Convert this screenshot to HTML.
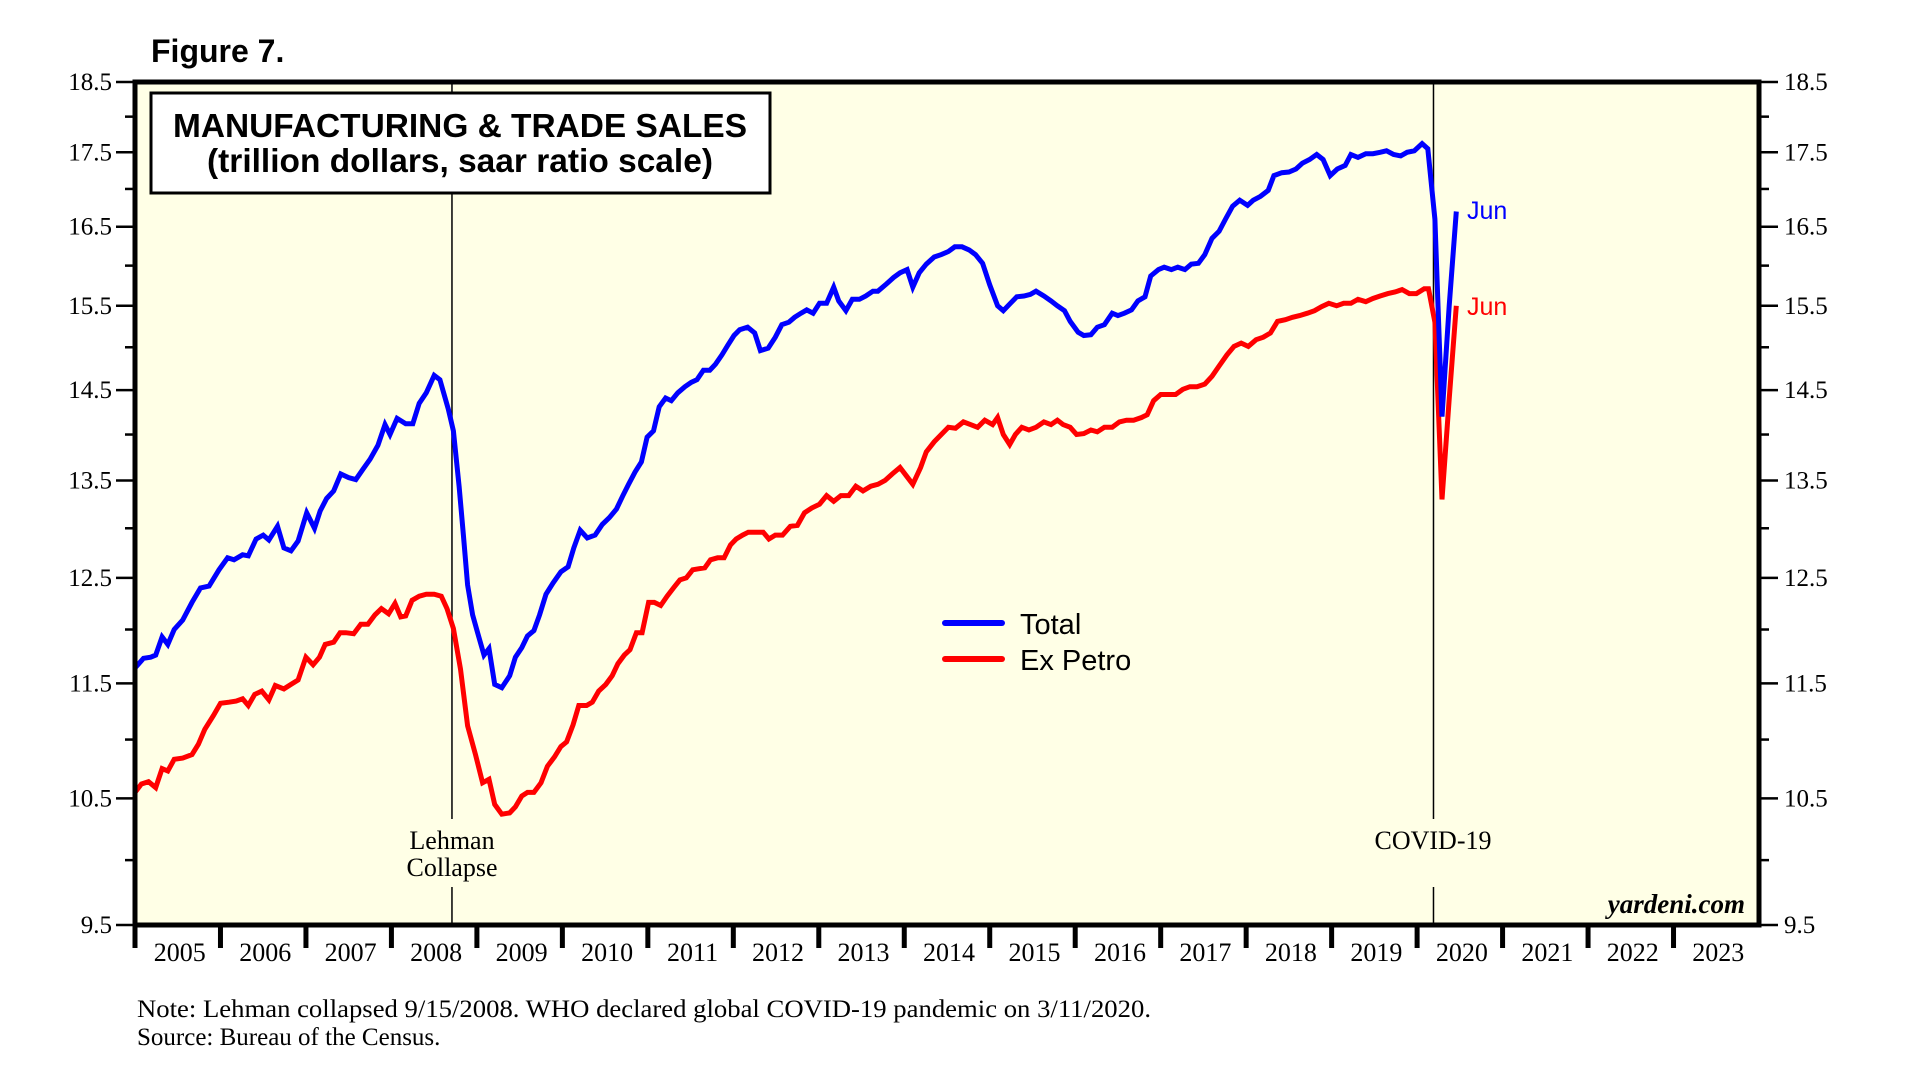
<!DOCTYPE html>
<html><head><meta charset="utf-8"><style>
html,body{margin:0;padding:0;background:#fff;}
svg{display:block;}
</style></head><body>
<svg id="chart" width="1908" height="1088" viewBox="0 0 1908 1088" xmlns="http://www.w3.org/2000/svg">
<text x="151" y="62" font-family="Liberation Sans, sans-serif" font-weight="bold" font-size="32">Figure 7.</text>
<rect x="135" y="82" width="1624" height="843" fill="#ffffe6"/>
<g id="grid"></g>
<g id="series"></g>
<rect x="135" y="82" width="1624" height="843" fill="none" stroke="#000" stroke-width="5"/>
<g id="axes"></g>
<rect x="151" y="93" width="619" height="100" fill="#fff" stroke="#000" stroke-width="3"/>
<text x="460" y="137" text-anchor="middle" font-family="Liberation Sans, sans-serif" font-weight="bold" font-size="33" textLength="574" lengthAdjust="spacingAndGlyphs">MANUFACTURING &amp; TRADE SALES</text>
<text x="460" y="172" text-anchor="middle" font-family="Liberation Sans, sans-serif" font-weight="bold" font-size="33" textLength="506" lengthAdjust="spacingAndGlyphs">(trillion dollars, saar ratio scale)</text>
<g>
<line x1="945" y1="623" x2="1002" y2="623" stroke="#0000ff" stroke-width="6" stroke-linecap="round"/>
<text x="1020" y="634" font-family="Liberation Sans, sans-serif" font-size="29">Total</text>
<line x1="945" y1="659" x2="1002" y2="659" stroke="#ff0000" stroke-width="6" stroke-linecap="round"/>
<text x="1020" y="670" font-family="Liberation Sans, sans-serif" font-size="29">Ex Petro</text>
</g>
<text x="452" y="849" text-anchor="middle" font-family="Liberation Serif, serif" font-size="26">Lehman</text>
<text x="452" y="876" text-anchor="middle" font-family="Liberation Serif, serif" font-size="26">Collapse</text>
<text x="1433" y="849" text-anchor="middle" font-family="Liberation Serif, serif" font-size="26">COVID-19</text>
<text x="1467" y="219" font-family="Liberation Sans, sans-serif" font-size="25" fill="#0000ff">Jun</text>
<text x="1467" y="315" font-family="Liberation Sans, sans-serif" font-size="25" fill="#ff0000">Jun</text>
<text x="1745" y="913" text-anchor="end" font-family="Liberation Serif, serif" font-weight="bold" font-style="italic" font-size="27">yardeni.com</text>
<text x="137" y="1017" font-family="Liberation Serif, serif" font-size="25" textLength="1014" lengthAdjust="spacingAndGlyphs">Note: Lehman collapsed 9/15/2008. WHO declared global COVID-19 pandemic on 3/11/2020.</text>
<text x="137" y="1045" font-family="Liberation Serif, serif" font-size="25">Source: Bureau of the Census.</text>
</svg>
<script>
// month index since Jan 2005
const totalMonths = [0,1.2,2.2,2.9,3.8,4.6,5.5,6.7,8,9.2,10.4,11.8,13,13.9,15.1,15.9,17,18,18.8,20,20.9,21.9,22.9,24.1,25.2,26,26.9,27.9,28.9,30,31,32,33,34.1,35.1,35.8,36.8,38,39,39.9,40.9,42,42.8,44,44.7,45.5,46.1,46.7,47.4,48.1,49,49.7,50.5,51.5,52.6,53.4,54.3,55.1,56,56.8,57.7,58.7,59.8,60.8,61.6,62.5,63.5,64.6,65.6,66.6,67.6,68.5,69.3,70.2,71.1,71.9,72.8,73.6,74.5,75.3,76.2,77.2,78.1,78.9,79.8,80.7,81.5,82.4,83.2,84.1,84.9,86,87,87.8,88.9,89.9,90.8,91.8,92.6,93.5,94.3,95.2,96.1,97.1,98.1,98.8,99.8,100.7,101.7,102.6,103.6,104.3,105.5,106.5,107.4,108.4,109.2,110.1,111.1,112.2,113.2,114.2,115.1,116.1,117.1,118,119,120,121.1,121.9,122.9,123.8,124.8,125.7,126.5,127.6,128.6,129.5,130.5,131.3,132.4,133.2,134.2,135.1,136.1,137.2,138,138.9,139.9,140.8,141.8,142.6,143.7,144.5,145.5,146.4,147.4,148.3,149.3,150.2,151.2,152.2,153.1,154.1,155.1,156.2,157,158,159.1,159.9,161,162,163,163.9,164.9,165.9,166.8,167.8,168.8,169.9,170.7,171.7,172.8,173.8,174.8,175.7,176.7,177.7,178.6,179.6,180.7,181.5,182.5,183.5,184.5,185.5];
const totalValues = [11.64,11.73,11.74,11.76,11.93,11.86,12.0,12.09,12.26,12.4,12.42,12.58,12.7,12.68,12.73,12.72,12.89,12.93,12.88,13.02,12.8,12.77,12.87,13.16,13.0,13.18,13.31,13.39,13.57,13.53,13.51,13.62,13.73,13.88,14.11,14.0,14.18,14.12,14.12,14.35,14.47,14.67,14.62,14.28,14.04,13.44,12.93,12.43,12.14,11.97,11.76,11.82,11.49,11.46,11.57,11.74,11.83,11.94,11.99,12.14,12.34,12.45,12.56,12.61,12.8,12.98,12.9,12.93,13.04,13.11,13.2,13.34,13.46,13.59,13.7,13.97,14.04,14.31,14.41,14.38,14.47,14.54,14.59,14.62,14.73,14.73,14.8,14.91,15.02,15.14,15.21,15.24,15.17,14.96,14.99,15.12,15.27,15.3,15.36,15.41,15.45,15.41,15.53,15.53,15.73,15.56,15.44,15.58,15.58,15.62,15.68,15.68,15.77,15.85,15.91,15.95,15.73,15.91,16.02,16.11,16.14,16.18,16.24,16.24,16.2,16.14,16.03,15.76,15.5,15.44,15.53,15.61,15.62,15.64,15.68,15.62,15.56,15.5,15.44,15.31,15.18,15.14,15.15,15.24,15.27,15.41,15.38,15.41,15.45,15.56,15.61,15.87,15.95,15.98,15.95,15.98,15.95,16.02,16.03,16.14,16.35,16.44,16.6,16.77,16.85,16.78,16.85,16.9,16.98,17.18,17.22,17.23,17.27,17.35,17.4,17.47,17.4,17.18,17.27,17.32,17.47,17.43,17.48,17.48,17.5,17.52,17.47,17.45,17.5,17.52,17.62,17.55,16.6,14.2,15.5,16.7];
const exPetroMonths = [0,0.9,1.9,2.9,3.8,4.6,5.5,6.7,8,8.9,9.8,11,12,13.2,14.2,15.1,15.9,16.8,17.8,18.8,19.7,20.9,21.9,22.9,24,25,25.9,26.7,27.9,28.8,29.6,30.7,31.7,32.7,33.7,34.6,35.6,36.5,37.3,38,38.9,39.9,40.9,42,43,43.8,44.7,45.7,46.7,47.8,48.8,49.7,50.5,51.5,52.6,53.4,54.3,55.1,56,57,57.9,58.9,59.8,60.6,61.5,62.3,63.4,64.2,65.1,66.1,67,67.8,68.7,69.5,70.4,71.2,72.1,72.9,73.8,74.7,75.7,76.5,77.4,78.3,79.1,80,80.8,81.8,82.7,83.6,84.4,85.3,86.1,87.2,88.2,89,89.9,90.9,92,93,94,95,96.1,97.1,98.1,99.1,100.2,101.2,102.2,103.3,104.3,105.3,106.3,107.4,108.4,109.2,110.3,111.1,112.2,113.2,114.2,115.2,116.3,117.3,118.3,119.3,120.4,121.1,121.9,122.8,123.6,124.5,125.5,126.5,127.6,128.6,129.5,130.3,131.3,132.2,133.2,134.2,135.1,136.1,137.2,138.2,139.2,140.2,141.3,142.1,143,144,145,146.1,147.1,148.1,149.1,150.2,151.2,152.2,153.3,154.3,155.3,156.3,157.4,158.4,159.4,160.4,161.5,162.5,163.5,164.6,165.6,166.6,167.6,168.7,169.7,170.7,171.7,172.8,173.8,174.8,175.9,176.9,177.9,178.9,179.9,181,181.6,182.5,183.5,184.5,185.5];
const exPetroValues = [10.55,10.62,10.64,10.59,10.75,10.73,10.83,10.84,10.87,10.96,11.09,11.21,11.32,11.33,11.34,11.36,11.3,11.4,11.43,11.35,11.48,11.45,11.49,11.53,11.74,11.67,11.74,11.86,11.88,11.97,11.97,11.96,12.05,12.05,12.14,12.2,12.15,12.25,12.12,12.13,12.28,12.32,12.34,12.34,12.32,12.2,12.01,11.63,11.12,10.87,10.63,10.66,10.45,10.37,10.38,10.43,10.52,10.55,10.55,10.63,10.77,10.85,10.94,10.98,11.13,11.3,11.3,11.33,11.43,11.49,11.57,11.68,11.76,11.81,11.97,11.97,12.26,12.26,12.23,12.32,12.41,12.48,12.5,12.58,12.59,12.6,12.68,12.7,12.7,12.83,12.89,12.93,12.96,12.96,12.96,12.89,12.93,12.93,13.02,13.03,13.16,13.21,13.25,13.34,13.28,13.34,13.34,13.44,13.39,13.44,13.46,13.5,13.57,13.64,13.54,13.46,13.64,13.81,13.92,14.0,14.08,14.07,14.14,14.11,14.08,14.16,14.11,14.19,14.0,13.89,14.0,14.08,14.05,14.08,14.14,14.11,14.16,14.11,14.08,14.0,14.01,14.05,14.03,14.08,14.08,14.14,14.16,14.16,14.19,14.22,14.38,14.45,14.45,14.45,14.51,14.54,14.54,14.57,14.66,14.78,14.91,15.01,15.05,15.01,15.09,15.12,15.17,15.31,15.33,15.36,15.38,15.41,15.44,15.49,15.53,15.5,15.53,15.53,15.58,15.55,15.59,15.62,15.65,15.67,15.7,15.65,15.65,15.71,15.71,15.3,13.3,14.4,15.5];
const yearLabels = ['2005','2006','2007','2008','2009','2010','2011','2012','2013','2014','2015','2016','2017','2018','2019','2020','2021','2022','2023'];
const yTickLabels = ['9.5','10.5','11.5','12.5','13.5','14.5','15.5','16.5','17.5','18.5'];
const yMinorTicks = [10,11,12,13,14,15,16,17,18];
const eventMonths = [44.5, 182.3];

const NS = 'http://www.w3.org/2000/svg';
const L = 135, R = 1759, T = 82, B = 925;
const yMin = 9.5, yMax = 18.5;
const perYear = (R - L) / yearLabels.length;
function xScale(m){ return L + m / 12 * perYear; }
function yScale(v){ return B - (Math.log(v) - Math.log(yMin)) / (Math.log(yMax) - Math.log(yMin)) * (B - T); }
function mk(tag, attrs, parent){
  const e = document.createElementNS(NS, tag);
  for (const k in attrs) e.setAttribute(k, attrs[k]);
  parent.appendChild(e); return e;
}
const grid = document.getElementById('grid');
const axes = document.getElementById('axes');
const series = document.getElementById('series');

eventMonths.forEach((m, i) => {
  const x = xScale(m);
  const a = mk('line', {x1:x, y1:T, x2:x, y2:819, stroke:'#000', 'stroke-width':1.5}, grid);
  
  
  const b = mk('line', {x1:x, y1:887, x2:x, y2:B, stroke:'#000', 'stroke-width':1.5}, grid);
  
  
});

yTickLabels.forEach(t => {
  const y = yScale(parseFloat(t));
  const tl = mk('line', {x1:116, y1:y, x2:L, y2:y, stroke:'#000', 'stroke-width':2.5}, axes);
  
  
  const tr = mk('line', {x1:R, y1:y, x2:1778, y2:y, stroke:'#000', 'stroke-width':2.5}, axes);
  
  
  const lt = mk('text', {x:112, y:y+8, 'text-anchor':'end', 'font-family':'Liberation Serif, serif', 'font-size':25}, axes);
  lt.textContent = t;
  
  
  const rt = mk('text', {x:1784, y:y+8, 'font-family':'Liberation Serif, serif', 'font-size':25}, axes);
  rt.textContent = t;
  
  
});
yMinorTicks.forEach(v => {
  const y = yScale(v);
  const a = mk('line', {x1:125, y1:y, x2:L, y2:y, stroke:'#000', 'stroke-width':2.5}, axes);
  
  
  const b = mk('line', {x1:R, y1:y, x2:1769, y2:y, stroke:'#000', 'stroke-width':2.5}, axes);
  
  
});
yearLabels.forEach((lab, i) => {
  const x = xScale(i * 12);
  const t = mk('line', {x1:x, y1:B, x2:x, y2:948, stroke:'#000', 'stroke-width':5}, axes);
  
  
  const tx = mk('text', {x:xScale(i * 12 + 6) + 2, y:961, 'text-anchor':'middle', 'font-family':'Liberation Serif, serif', 'font-size':26}, axes);
  tx.textContent = lab;
  
  
});

function drawLine(ms, vs, color, name){
  const d = ms.map((m, i) => (i ? 'L' : 'M') + xScale(m).toFixed(1) + ',' + yScale(vs[i]).toFixed(1)).join(' ');
  const p = mk('path', {d:d, fill:'none', stroke:color, 'stroke-width':5, 'stroke-linejoin':'miter', 'stroke-miterlimit':3}, series);
  
  
}
drawLine(exPetroMonths, exPetroValues, '#ff0000', 'ex-petro-line');
drawLine(totalMonths, totalValues, '#0000ff', 'total-line');
</script>
</body></html>
